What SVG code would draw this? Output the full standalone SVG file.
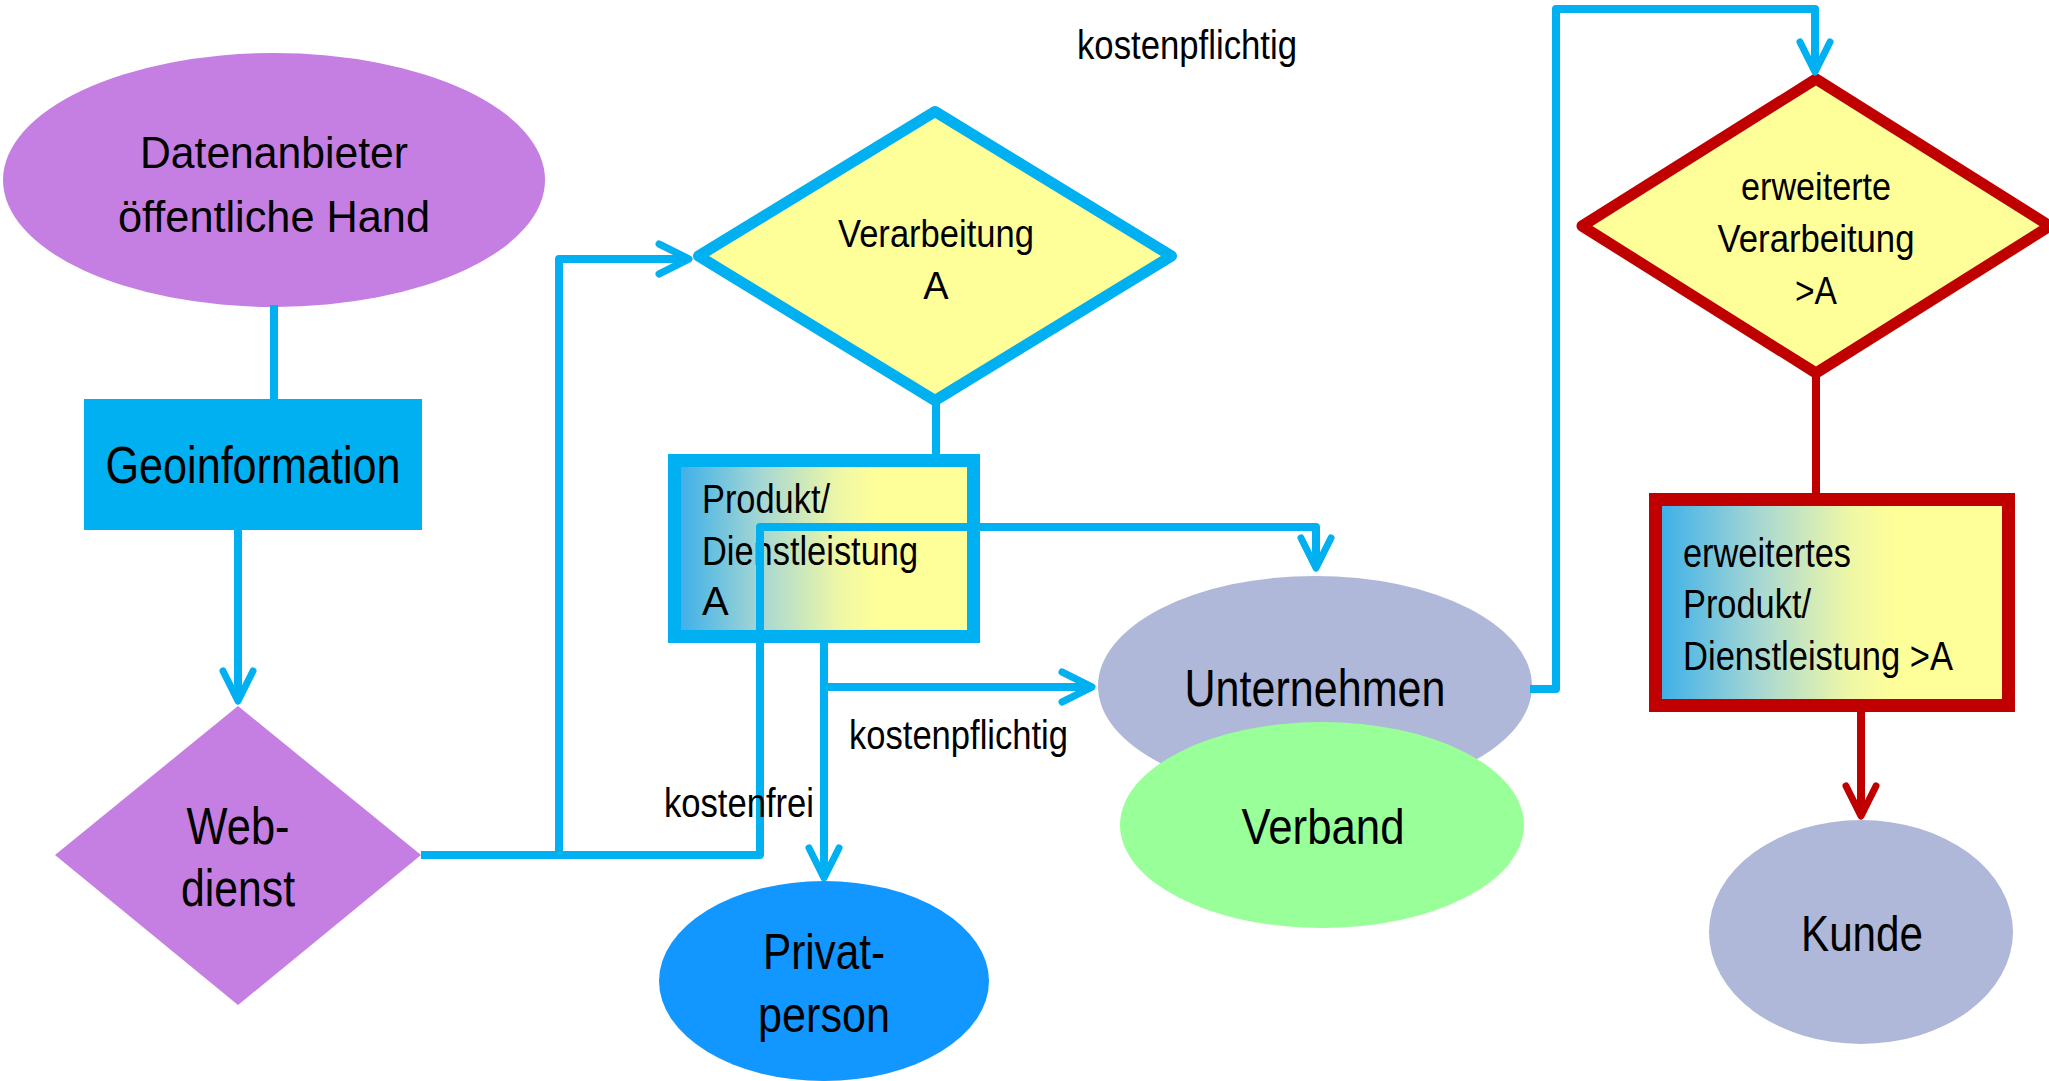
<svg xmlns="http://www.w3.org/2000/svg" width="2049" height="1081" viewBox="0 0 2049 1081">
<style>
text{font-family:"Liberation Sans Narrow","Arial Narrow","Liberation Sans",Arial,sans-serif;fill:#000}
.c{text-anchor:middle}
.blue{fill:none;stroke:#00B0F0;stroke-width:8;stroke-linejoin:round}
.red{fill:none;stroke:#C00000;stroke-width:8;stroke-linejoin:round}
</style>
<defs>
<linearGradient id="grad" x1="0" y1="0" x2="1" y2="0">
<stop offset="0" stop-color="#38AEEA"/>
<stop offset="0.3" stop-color="#A9D8D2"/>
<stop offset="0.55" stop-color="#EEF7A6"/>
<stop offset="0.68" stop-color="#FFFF99"/>
<stop offset="1" stop-color="#FFFF99"/>
</linearGradient>
<marker id="ab" markerUnits="userSpaceOnUse" viewBox="-40 -25 50 50" markerWidth="50" markerHeight="50" refX="0" refY="0" orient="auto" overflow="visible">
<path d="M-30,-15 L0,0 L-30,15" fill="none" stroke="#00B0F0" stroke-width="7" stroke-linecap="round" stroke-linejoin="round"/>
</marker>
<marker id="ar" markerUnits="userSpaceOnUse" viewBox="-40 -25 50 50" markerWidth="50" markerHeight="50" refX="0" refY="0" orient="auto" overflow="visible">
<path d="M-30,-15 L0,0 L-30,15" fill="none" stroke="#C00000" stroke-width="7" stroke-linecap="round" stroke-linejoin="round"/>
</marker>
</defs>

<g id="datenanbieter">
<ellipse cx="274" cy="180" rx="271" ry="127" fill="#C57EE2"/>
<text class="c" x="274" y="168" font-size="45" textLength="268" lengthAdjust="spacingAndGlyphs">Datenanbieter</text>
<text class="c" x="274" y="232" font-size="45" textLength="312" lengthAdjust="spacingAndGlyphs">öffentliche Hand</text>
</g>

<g id="geoinformation">
<rect x="84" y="399" width="338" height="131" fill="#00B0F0"/>
<text class="c" x="253" y="483" font-size="52" textLength="295" lengthAdjust="spacingAndGlyphs">Geoinformation</text>
</g>

<g id="webdienst">
<polygon points="238,706 421,855 238,1005 55,855" fill="#C57EE2"/>
<text class="c" x="238" y="844" font-size="52" textLength="103" lengthAdjust="spacingAndGlyphs">Web-</text>
<text class="c" x="238" y="906" font-size="52" textLength="114" lengthAdjust="spacingAndGlyphs">dienst</text>
</g>

<g id="verarbeitung">
<polygon points="935,111.5 1171.5,256 935,400.5 698.5,256" fill="#FFFF99" stroke="#00B0F0" stroke-width="11" stroke-linejoin="round"/>
<text class="c" x="936" y="247" font-size="38" textLength="196" lengthAdjust="spacingAndGlyphs">Verarbeitung</text>
<text class="c" x="936" y="299" font-size="38">A</text>
</g>

<g id="produkt">
<rect x="674.5" y="460.5" width="299" height="176" fill="url(#grad)" stroke="#00B0F0" stroke-width="13"/>
<text x="702" y="513" font-size="40" textLength="128" lengthAdjust="spacingAndGlyphs">Produkt/</text>
<text x="702" y="565" font-size="40" textLength="216" lengthAdjust="spacingAndGlyphs">Dienstleistung</text>
<text x="702" y="615" font-size="40">A</text>
</g>

<g id="privatperson">
<ellipse cx="824" cy="981" rx="165" ry="100" fill="#1296FF"/>
<text class="c" x="824" y="969" font-size="50" textLength="122" lengthAdjust="spacingAndGlyphs">Privat-</text>
<text class="c" x="824" y="1032" font-size="50" textLength="132" lengthAdjust="spacingAndGlyphs">person</text>
</g>

<g id="unternehmen">
<ellipse cx="1315" cy="686" rx="217" ry="110" fill="#AFB8D8"/>
<text class="c" x="1315" y="706" font-size="52" textLength="261" lengthAdjust="spacingAndGlyphs">Unternehmen</text>
</g>

<g id="verband">
<ellipse cx="1322" cy="825" rx="202" ry="103" fill="#99FF99"/>
<text class="c" x="1323" y="844" font-size="50" textLength="163" lengthAdjust="spacingAndGlyphs">Verband</text>
</g>

<g id="erw-verarbeitung">
<polygon points="1816,79 2050,226 1816,373 1582,226" fill="#FFFF99" stroke="#C00000" stroke-width="11" stroke-linejoin="round"/>
<text class="c" x="1816" y="200" font-size="38" textLength="150" lengthAdjust="spacingAndGlyphs">erweiterte</text>
<text class="c" x="1816" y="252" font-size="38" textLength="197" lengthAdjust="spacingAndGlyphs">Verarbeitung</text>
<text class="c" x="1816" y="304" font-size="38" textLength="42" lengthAdjust="spacingAndGlyphs">&gt;A</text>
</g>

<g id="erw-produkt">
<rect x="1655.5" y="499.5" width="353" height="206" fill="url(#grad)" stroke="#C00000" stroke-width="13"/>
<text x="1683" y="567" font-size="40" textLength="168" lengthAdjust="spacingAndGlyphs">erweitertes</text>
<text x="1683" y="618" font-size="40" textLength="128" lengthAdjust="spacingAndGlyphs">Produkt/</text>
<text x="1683" y="670" font-size="40" textLength="270" lengthAdjust="spacingAndGlyphs">Dienstleistung &gt;A</text>
</g>

<g id="kunde">
<ellipse cx="1861" cy="932" rx="152" ry="112" fill="#AFB8D8"/>
<text class="c" x="1862" y="951" font-size="50" textLength="122" lengthAdjust="spacingAndGlyphs">Kunde</text>
</g>

<g id="connectors">
<path class="blue" d="M274,305 V400" stroke-width="7"/>
<path class="blue" d="M238,528 V701" marker-end="url(#ab)"/>
<path class="blue" d="M421,855 H760 V527 H1316 V568" marker-end="url(#ab)"/>
<path class="blue" d="M559,855 V259 H689" marker-end="url(#ab)"/>
<path class="blue" d="M936,400 V456" stroke-width="6"/>
<path class="blue" d="M824,641 V878" marker-end="url(#ab)"/>
<path class="blue" d="M824,687 H1092" marker-end="url(#ab)"/>
<path class="blue" d="M1530,689 H1556 V9 H1815 V72" marker-end="url(#ab)"/>
<path class="red" d="M1816,373 V494"/>
<path class="red" d="M1861,711 V816" marker-end="url(#ar)"/>
</g>

<g id="labels">
<text x="1077" y="59" font-size="40" textLength="220" lengthAdjust="spacingAndGlyphs">kostenpflichtig</text>
<text x="849" y="749" font-size="40" textLength="219" lengthAdjust="spacingAndGlyphs">kostenpflichtig</text>
<text x="664" y="817" font-size="40" textLength="150" lengthAdjust="spacingAndGlyphs">kostenfrei</text>
</g>
</svg>
